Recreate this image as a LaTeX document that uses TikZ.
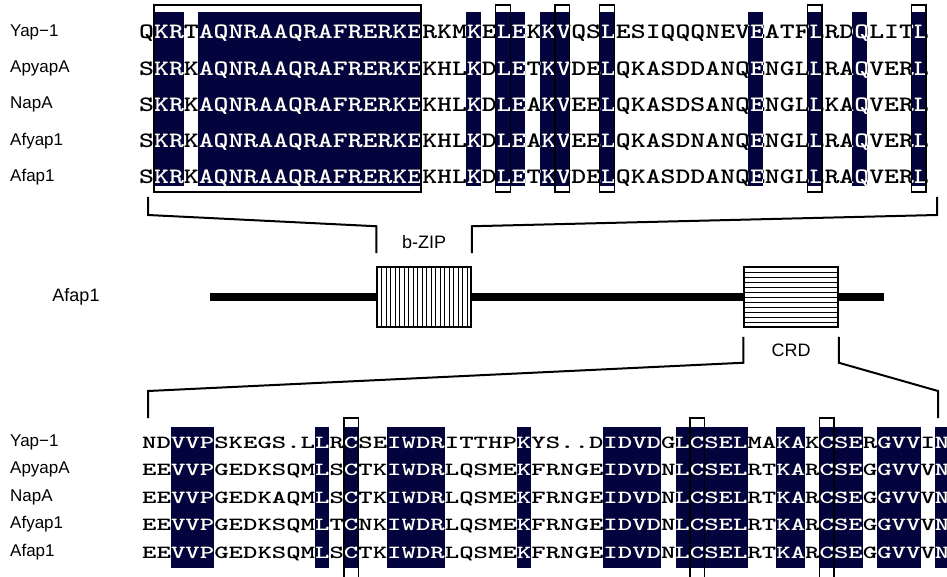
\documentclass[tikz,border=0pt]{standalone}
\usepackage{fontspec}
\setmainfont{Liberation Sans}
\newfontfamily\seqtopfont[FakeStretch=1.29]{lmmonolt10-bold.otf}
\newfontfamily\seqbotfont[FakeStretch=1.48]{lmmonolt10-bold.otf}
\usetikzlibrary{calc}
\definecolor{consfill}{HTML}{03033D}
\tikzset{
  lbl/.style={font=\fontsize{17}{17}\selectfont, anchor=west, inner sep=0pt},
  seqtop/.style={font=\seqtopfont\fontsize{22}{22}\selectfont, anchor=base west, inner sep=0pt},
  seqbot/.style={font=\seqbotfont\fontsize{18.55}{18.55}\selectfont, anchor=base west, inner sep=0pt},
  cons/.style={fill=consfill},
  keep/.style={draw=black, line width=1.4pt},
  brk/.style={draw=black, line width=2pt},
  dom/.style={draw=black, line width=1.5pt, fill=white, minimum width=94pt, minimum height=60pt, inner sep=0pt},
  dlabel/.style={font=\fontsize{18}{18}\selectfont, inner sep=0pt},
}
% columns: top block starts at 139, 14.85 wide; bottom block at 142, 14.42 wide
\def\topdark{2/3,5/19,23/23,25/26,28/29,32/32,42/42,46/46,49/49,53/53}
\def\botdark{3/5,13/13,15/15,18/21,27/27,33/36,38/42,45/46,48/50,52/54,56/56}
\def\toprows{Yap−1/QKRTAQNRAAQRAFRERKERKMKELEKKVQSLESIQQQNEVEATFLRDQLITL,
  ApyapA/SKRKAQNRAAQRAFRERKEKHLKDLETKVDELQKASDDANQENGLLRAQVERL,
  NapA/SKRKAQNRAAQRAFRERKEKHLKDLEAKVEELQKASDSANQENGLLKAQVERL,
  Afyap1/SKRKAQNRAAQRAFRERKEKHLKDLEAKVEELQKASDNANQENGLLRAQVERL,
  Afap1/SKRKAQNRAAQRAFRERKEKHLKDLETKVDELQKASDDANQENGLLRAQVERL}
\def\botrows{Yap−1/NDVVPSKEGS.LLRCSEIWDRITTHPKYS..DIDVDGLCSELMAKAKCSERGVVIN,
  ApyapA/EEVVPGEDKSQMLSCTKIWDRLQSMEKFRNGEIDVDNLCSELRTKARCSEGGVVVN,
  NapA/EEVVPGEDKAQMLSCTKIWDRLQSMEKFRNGEIDVDNLCSELRTKARCSEGGVVVN,
  Afyap1/EEVVPGEDKSQMLTCNKIWDRLQSMEKFRNGEIDVDNLCSELRTKARCSEGGVVVN,
  Afap1/EEVVPGEDKSQMLSCTKIWDRLQSMEKFRNGEIDVDNLCSELRTKARCSEGGVVVN}

\begin{document}
\begin{tikzpicture}[x=1pt,y=-1pt]
  \useasboundingbox (0,0) rectangle (947,577);

  % b-ZIP alignment
  \foreach \a/\b in \topdark
    \fill[cons] ({139+(\a-1)*14.85},12) rectangle ({139+\b*14.85},186);
  \foreach \lab/\sq [count=\i] in \toprows {
    \node[lbl] (tl\i) at (10,{32+36.25*(\i-1)}) {\lab};
    \node[seqtop] (ts\i) at (139,{39+36.25*(\i-1)}) {\sq};
  }
  \begin{scope}
    \clip foreach \a/\b in \topdark {({139+(\a-1)*14.85},12) rectangle ({139+\b*14.85},186)};
    \foreach \lab/\sq [count=\i] in \toprows
      \node[seqtop, text=white] (tw\i) at (139,{39+36.25*(\i-1)}) {\sq};
  \end{scope}
  \draw[keep] ({139+14.85},5) rectangle ({139+19*14.85},192);
  \foreach \c in {25,29,32,46,53}
    \draw[keep] ({139+(\c-1)*14.85},5) rectangle ({139+\c*14.85},192);

  % protein
  \coordinate (nterm) at (210,297);
  \coordinate (cterm) at (884,297);
  \draw[line width=8pt] (nterm) -- (cterm);
  \node[dom, path picture={
      \foreach \k in {1,...,20}
        \draw[line width=0.6pt] ($(path picture bounding box.north west)+(\k*4.5,0)$) -- ++(0,60);
    }] (bzip) at (424,297) {};
  \node[dom, path picture={
      \foreach \k in {1,...,11}
        \draw[line width=0.6pt] ($(path picture bounding box.north west)+(0,\k*5)$) -- ++(94,0);
    }] (crd) at (791,297) {};
  \node[dlabel] (bziplbl) at (424,242) {b-ZIP};
  \node[dlabel] (crdlbl) at (791,350) {CRD};
  \node[dlabel] (prot) at (76,297) {Afap1};

  % brackets
  \coordinate (tleft) at (148,197);
  \coordinate (tright) at (937,197);
  \coordinate (bleft) at (148,418);
  \coordinate (bright) at (938,418);
  \draw[brk] (tleft) -- ++(0,18) -- ($(bzip.north west)+(0,-40)$) -- ++(0,27);
  \draw[brk] (tright) -- ++(0,18) -- ($(bzip.north east)+(0,-40)$) -- ++(0,27);
  \draw[brk] (bleft) -- ++(0,-27) -- ($(crd.south west)+(0,35)$) -- ++(0,-26);
  \draw[brk] (bright) -- ++(0,-27) -- ($(crd.south east)+(0,35)$) -- ++(0,-26);

  % CRD alignment
  \foreach \a/\b in \botdark
    \fill[cons] ({142+(\a-1)*14.42},427) rectangle ({142+\b*14.42},568);
  \foreach \lab/\sq [count=\i] in \botrows {
    \node[lbl] (bl\i) at (10,{442+27.5*(\i-1)}) {\lab};
    \node[seqbot] (bs\i) at (142,{448+27.5*(\i-1)}) {\sq};
  }
  \begin{scope}
    \clip foreach \a/\b in \botdark {({142+(\a-1)*14.42},427) rectangle ({142+\b*14.42},568)};
    \foreach \lab/\sq [count=\i] in \botrows
      \node[seqbot, text=white] (bw\i) at (142,{448+27.5*(\i-1)}) {\sq};
  \end{scope}
  \foreach \c in {15,39,48}
    \draw[keep] ({142+(\c-1)*14.42},577) -- ({142+(\c-1)*14.42},418) -- ({142+\c*14.42},418) -- ({142+\c*14.42},577);
\end{tikzpicture}
\end{document}
